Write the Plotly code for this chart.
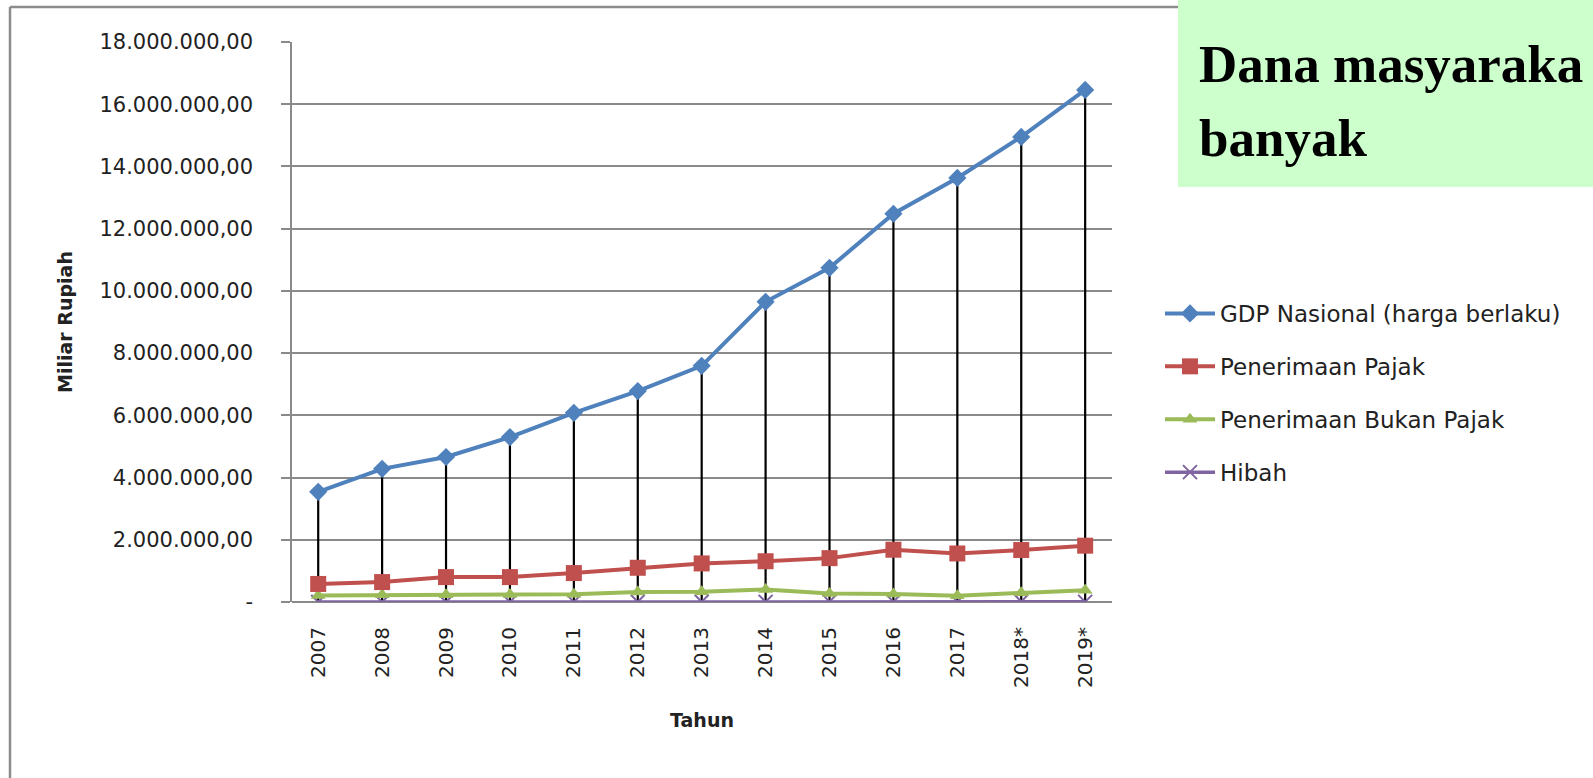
import plotly.graph_objects as go

years = ["2007", "2008", "2009", "2010", "2011", "2012", "2013",
         "2014", "2015", "2016", "2017", "2018*", "2019*"]
gdp = [3540000, 4280000, 4660000, 5300000, 6080000, 6780000, 7590000,
       9650000, 10740000, 12480000, 13630000, 14950000, 16460000]
pajak = [580000, 640000, 800000, 800000, 930000, 1100000, 1240000,
         1310000, 1410000, 1680000, 1560000, 1670000, 1810000]
bukan_pajak = [210000, 230000, 230000, 240000, 250000, 320000, 330000,
               400000, 270000, 260000, 200000, 300000, 380000]
hibah = [2000, 2300, 1700, 3000, 5300, 5800, 7000,
         5000, 11900, 9000, 11600, 15600, 5000]

y_tickvals = [0, 2000000, 4000000, 6000000, 8000000, 10000000,
              12000000, 14000000, 16000000, 18000000]
y_ticktext = ["-", "2.000.000,00", "4.000.000,00", "6.000.000,00",
              "8.000.000,00", "10.000.000,00", "12.000.000,00",
              "14.000.000,00", "16.000.000,00", "18.000.000,00"]

series_names = ["GDP Nasional (harga berlaku)", "Penerimaan Pajak",
                "Penerimaan Bukan Pajak", "Hibah"]

FONT = "DejaVu Sans"

# plot area in pixels (for paper-coordinate conversion of decorations)
W, H = 1593, 778
L, R, T, B = 292, 1112, 42, 602
pw, ph = R - L, B - T
def px(x):
    return (x - L) / pw
def py(y):
    return (B - y) / ph

fig = go.Figure()

# drop lines from axis to the highest series value
drop_x, drop_y = [], []
for i, yr in enumerate(years):
    top = max(gdp[i], pajak[i], bukan_pajak[i], hibah[i])
    drop_x += [yr, yr, None]
    drop_y += [0, top, None]
fig.add_trace(go.Scatter(x=drop_x, y=drop_y, mode="lines",
                         line=dict(color="black", width=2.2),
                         showlegend=False, hoverinfo="skip"))

fig.add_trace(go.Scatter(x=years, y=hibah, name=series_names[3],
                         mode="lines+markers", legendgroup="d", legendrank=4,
                         line=dict(color="#8064A2", width=3.5),
                         marker=dict(symbol="x-thin", size=14,
                                     line=dict(color="#8064A2", width=2))))
fig.add_trace(go.Scatter(x=years, y=bukan_pajak, name=series_names[2],
                         mode="lines+markers", legendgroup="c", legendrank=3,
                         line=dict(color="#9BBB59", width=4),
                         marker=dict(symbol="triangle-up", size=13,
                                     color="#9BBB59")))
fig.add_trace(go.Scatter(x=years, y=pajak, name=series_names[1],
                         mode="lines+markers", legendgroup="b", legendrank=2,
                         line=dict(color="#C0504D", width=4),
                         marker=dict(symbol="square", size=16,
                                     color="#C0504D")))
fig.add_trace(go.Scatter(x=years, y=gdp, name=series_names[0],
                         mode="lines+markers", legendgroup="a", legendrank=1,
                         line=dict(color="#4F81BD", width=4),
                         marker=dict(symbol="diamond", size=14,
                                     color="#4F81BD")))

fig.update_layout(
    width=W, height=H,
    margin=dict(l=L, r=W - R, t=T, b=H - B, autoexpand=False),
    paper_bgcolor="white", plot_bgcolor="white",
    font=dict(family=FONT, color="#222222"),
    legend=dict(x=px(1160), y=py(292), xanchor="left", yanchor="top",
                traceorder="grouped", tracegroupgap=20,
                font=dict(family=FONT, size=23, color="#222222"),
                bgcolor="rgba(0,0,0,0)", itemwidth=50),
    xaxis=dict(type="category", range=[-0.41, 12.42],
               showgrid=False, zeroline=False, showline=False,
               tickangle=-90, ticks="", ticklabelstandoff=20,
               tickfont=dict(family=FONT, size=20, color="#222222"),
               title=dict(text="<b>Tahun</b>", standoff=26,
                          font=dict(family=FONT, size=19, color="#222222"))),
    yaxis=dict(range=[0, 18000000], tickvals=y_tickvals, ticktext=y_ticktext,
               showgrid=True, gridcolor="#8a8a8a", gridwidth=1.5,
               zeroline=True, zerolinecolor="#8a8a8a", zerolinewidth=1.5,
               showline=True, linecolor="#8a8a8a", linewidth=1.5,
               ticks="outside", ticklen=9, tickcolor="#8a8a8a", tickwidth=1.5,
               ticklabelstandoff=24,
               tickfont=dict(family=FONT, size=21, color="#222222"),
               title=dict(text="<b>Miliar Rupiah</b>", standoff=22,
                          font=dict(family=FONT, size=19, color="#222222"))),
    showlegend=True,
)

# outer chart border (top and left visible)
fig.add_shape(type="line", xref="paper", yref="paper",
              x0=px(10), x1=px(1180), y0=py(7), y1=py(7),
              line=dict(color="#8c8c8c", width=2.5))
fig.add_shape(type="line", xref="paper", yref="paper",
              x0=px(10), x1=px(10), y0=py(7), y1=py(800),
              line=dict(color="#8c8c8c", width=2.5))

# green note box
fig.add_shape(type="rect", xref="paper", yref="paper",
              x0=px(1178), x1=px(1600), y0=py(187), y1=py(-5),
              fillcolor="#CCFFCC", line=dict(width=0), layer="above")
fig.add_annotation(xref="paper", yref="paper", x=px(1197), y=py(64),
                   xanchor="left", yanchor="middle", showarrow=False,
                   text="<b>Dana masyaraka</b>",
                   font=dict(family="Liberation Serif", size=53, color="black"))
fig.add_annotation(xref="paper", yref="paper", x=px(1197), y=py(138),
                   xanchor="left", yanchor="middle", showarrow=False,
                   text="<b>banyak</b>",
                   font=dict(family="Liberation Serif", size=53, color="black"))

fig.write_html("out.html",
               config={"displayModeBar": False},
               post_script="document.body.style.margin='0';"
                           "document.body.style.overflow='hidden';")
